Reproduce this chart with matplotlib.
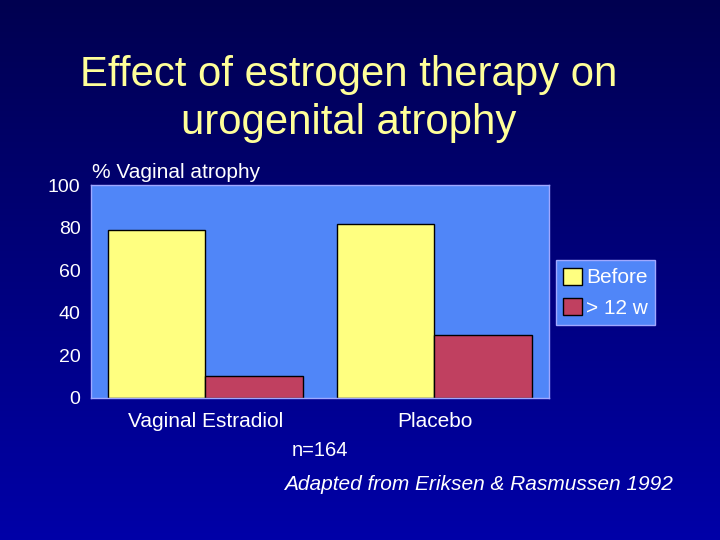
import numpy as np
import matplotlib
matplotlib.use("Agg")
import matplotlib.pyplot as plt
from matplotlib.colors import LinearSegmentedColormap

categories = ["Vaginal Estradiol", "Placebo"]
series_names = ["Before", "> 12 w"]
before = [79, 82]
after = [10.5, 29.5]
yticks = [0, 20, 40, 60, 80, 100]

plt.rcParams['font.family'] = ['Liberation Sans', 'DejaVu Sans']

fig = plt.figure(figsize=(7.2, 5.4), dpi=100)

# background gradient
bg = fig.add_axes([0, 0, 1, 1], zorder=-10)
grad = np.linspace(0, 1, 256).reshape(-1, 1)
cmap = LinearSegmentedColormap.from_list("bg", ["#000050", "#0000A8"])
bg.imshow(grad, aspect='auto', cmap=cmap, extent=[0, 1, 0, 1], origin='upper')
bg.axis('off')

ax = fig.add_axes([0.1264, 0.263, 0.636, 0.394])
ax.set_facecolor("#5086F8")
x = np.arange(len(categories))
w = 0.425
ax.bar(x - w / 2, before, width=w, color="#FFFF80", edgecolor="black", linewidth=1, label=series_names[0])
ax.bar(x + w / 2, after, width=w, color="#C04060", edgecolor="black", linewidth=1, label=series_names[1])
ax.set_xlim(-0.5, 1.5)
ax.set_ylim(0, 100)
ax.set_yticks(yticks)
ax.set_yticklabels([str(t) for t in yticks])
ax.set_xticks(x)
ax.set_xticklabels(categories)
ax.tick_params(axis='both', length=0, colors='white')
ax.tick_params(axis='y', pad=7.5, labelsize=14)
ax.tick_params(axis='x', pad=10, labelsize=15)
for s in ax.spines.values():
    s.set_color("#A0A8FF")
    s.set_linewidth(1)

leg = ax.legend(loc='upper left', bbox_to_anchor=(0.772, 0.518), bbox_transform=fig.transFigure,
                fontsize=15, frameon=True, fancybox=False, handlelength=0.9, handleheight=0.9,
                handletextpad=0.2, borderpad=0.35, labelspacing=0.5, borderaxespad=0)
leg.get_frame().set_facecolor("#5086F8")
leg.get_frame().set_edgecolor("#A0A8FF")
leg.get_frame().set_alpha(1)
for t in leg.get_texts():
    t.set_color("white")

fig.text(0.484, 0.861, "Effect of estrogen therapy on", ha='center', va='center', color="#FFFF99", fontsize=30.2)
fig.text(0.484, 0.772, "urogenital atrophy", ha='center', va='center', color="#FFFF99", fontsize=30.2)
fig.text(0.128, 0.681, "% Vaginal atrophy", ha='left', va='center', color='white', fontsize=15)
fig.text(0.445, 0.166, "n=164", ha='center', va='center', color='white', fontsize=14.5)
fig.text(0.934, 0.102, "Adapted from Eriksen & Rasmussen 1992", ha='right', va='center', color='white',
         fontsize=15, style='italic')

fig.savefig("out.png", dpi=100)
